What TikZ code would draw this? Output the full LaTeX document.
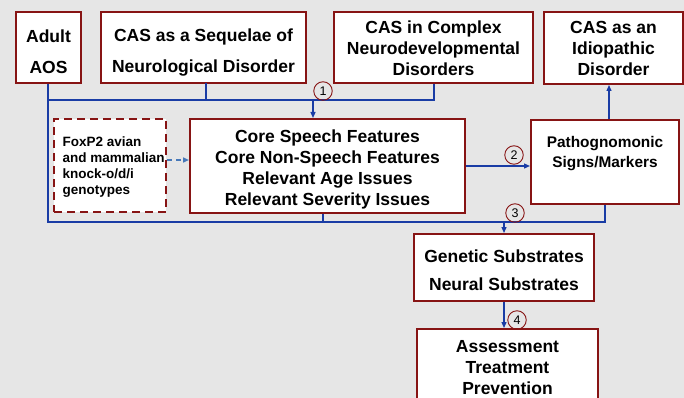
\documentclass[tikz,border=0pt]{standalone}
\usepackage{fontspec}
\setmainfont{Liberation Sans}
\usetikzlibrary{arrows.meta}
\definecolor{bg}{RGB}{230,230,230}
\definecolor{brd}{RGB}{135,20,20}
\definecolor{ln}{RGB}{25,60,165}
\definecolor{dl}{RGB}{70,120,185}
\begin{document}
\begin{tikzpicture}[x=1pt,y=-1pt,
 box/.style={draw=brd, line width=2pt, fill=white, inner sep=0pt},
 txt/.style={inner sep=0pt, align=center, font=\fontsize{17.5}{21}\selectfont\bfseries},
 conn/.style={draw=ln, line width=1.3pt},
 arr/.style={conn, -{Triangle[length=6pt,width=5pt]}},
 num/.style={circle, draw=brd, line width=0.9pt, minimum size=18.5pt, inner sep=0pt, font=\fontsize{12.5}{12.5}\selectfont}]
\fill[bg] (0,0) rectangle (684,398);
\clip (0,0) rectangle (684,398);

\node[box, minimum width=65, minimum height=71] (adult) at (48.5,47.5) {};
\node[txt] (adulttxt) at (48.5,52) {Adult\\[10pt]AOS};
\node[box, minimum width=205, minimum height=71] (seq) at (203.5,47.5) {};
\node[txt] (seqtxt) at (203.5,53) {CAS as a Sequelae of\\[10pt]Neurological Disorder};
\node[box, minimum width=199, minimum height=71] (cplx) at (433.5,47.5) {};
\node[txt] (cplxtxt) at (433.5,48.5) {CAS in Complex\\Neurodevelopmental\\Disorders};
\node[box, minimum width=139, minimum height=72] (idio) at (613.5,48) {};
\node[txt] (idiotxt) at (613.5,48.5) {CAS as an\\Idiopathic\\Disorder};

\node[box, line width=2.5pt, dash pattern=on 8pt off 5pt, minimum width=112, minimum height=93] (fox) at (110,165.5) {};
\node[inner sep=0pt, anchor=west, align=left, font=\fontsize{13.5}{16}\selectfont\bfseries] (foxtxt) at (62.5,167) {FoxP2 avian\\and mammalian\\knock-o/d/i\\genotypes};
\node[box, minimum width=275, minimum height=94] (core) at (327.5,166) {};
\node[txt] (coretxt) at (327.5,169.5) {Core Speech Features\\Core Non-Speech Features\\Relevant Age Issues\\Relevant Severity Issues};
\node[box, minimum width=148, minimum height=84] (path) at (605,162) {};
\node[txt, font=\fontsize{15.4}{20}\selectfont\bfseries] (pathtxt) at (605,154) {Pathognomonic\\Signs/Markers};
\node[box, minimum width=180, minimum height=67] (gen) at (504,267.5) {};
\node[txt] (gentxt) at (504,270.5) {Genetic Substrates\\[7pt]Neural Substrates};
\node[box, minimum width=181, minimum height=90] (assess) at (507.5,374) {};
\node[txt] (assesstxt) at (507.5,367.5) {Assessment\\Treatment\\Prevention};

\coordinate (tl) at (48,100);
\coordinate (tr) at (434,100);
\coordinate (tj) at (313,100);
\coordinate (bl) at (48,222);
\coordinate (br) at (605,222);
\coordinate (sq) at (206,83);

\draw[conn] (adult.south -| bl) -- (bl) -- (br) -- (path.south);
\draw[conn] (tl) -- (tr) -- (tr |- cplx.south);
\draw[conn] (sq) -- (sq |- tl);
\draw[conn] ([xshift=-4.5pt]core.south) -- ([xshift=-4.5pt]core.south |- bl);
\draw[arr] (tj) -- (tj |- core.north);
\draw[arr] (core.east) -- (core.east -| path.west);
\draw[arr] ([xshift=4pt]path.north) -- ([xshift=4pt]path.north |- idio.south);
\draw[arr] (gen.north |- bl) -- (gen.north);
\draw[arr] (gen.south) -- (gen.south |- assess.north);
\draw[dl, line width=1.8pt, dash pattern=on 5pt off 4pt, -{Triangle[length=6pt,width=5pt]}] ([yshift=5.5pt]fox.east) -- ([yshift=5.5pt]fox.east -| core.west);

\node[num] (n1) at (323,91) {1};
\node[num] (n2) at (514,155) {2};
\node[num] (n3) at (515,213) {3};
\node[num] (n4) at (517,320) {4};
\end{tikzpicture}
\end{document}
